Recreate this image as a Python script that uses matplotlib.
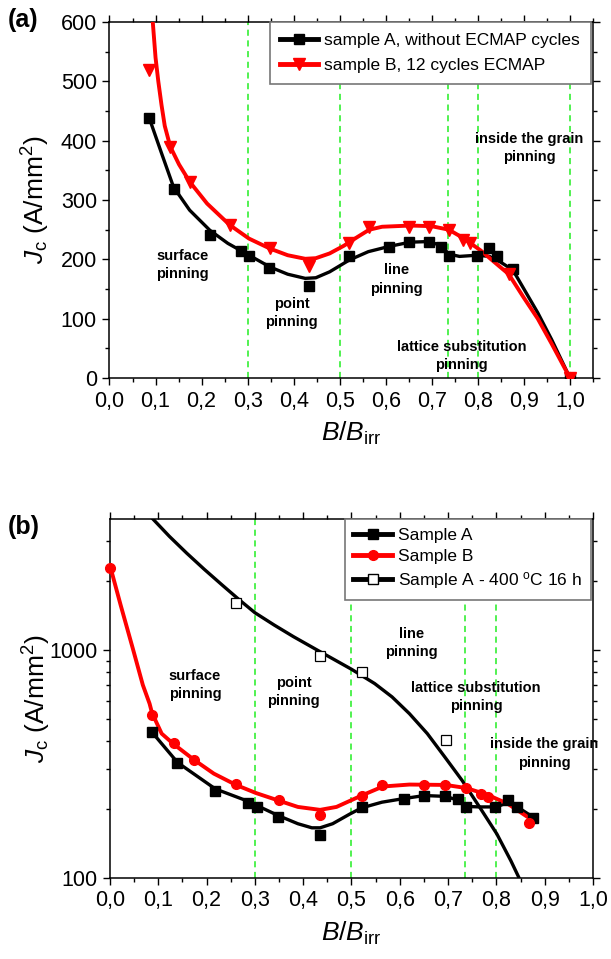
import matplotlib
matplotlib.use('Agg')
import matplotlib.pyplot as plt
from matplotlib.lines import Line2D
from matplotlib.ticker import MultipleLocator, FuncFormatter, LogLocator, NullFormatter
import numpy as np

plt.rcParams['font.family'] = ['Liberation Sans', 'DejaVu Sans']
plt.rcParams['mathtext.fontset'] = 'custom'
plt.rcParams['mathtext.rm'] = 'Liberation Sans'
plt.rcParams['mathtext.it'] = 'Liberation Sans:italic'
plt.rcParams['mathtext.bf'] = 'Liberation Sans:bold'

# measured points (same samples in both panels)
xA = [0.086, 0.139, 0.218, 0.286, 0.304, 0.347, 0.434, 0.521, 0.608, 0.651, 0.694, 0.720, 0.737, 0.798, 0.824, 0.842, 0.876, 1.0]
yA = [439, 319, 241, 214, 205, 186, 155, 205, 221, 230, 230, 221, 205, 205, 220, 205, 183, 0]
xB = [0.0, 0.086, 0.132, 0.174, 0.261, 0.349, 0.434, 0.521, 0.564, 0.651, 0.694, 0.737, 0.768, 0.783, 0.867, 1.0]
yB = [2300, 519, 390, 331, 258, 219, 188, 228, 255, 255, 255, 249, 233, 227, 175, 0]
xC = [0.261, 0.435, 0.521, 0.695]
yC = [1604, 942, 798, 404]

# fitted curves
fitA_a_x = [0.086, 0.113, 0.139, 0.174, 0.218, 0.257, 0.303, 0.349, 0.387, 0.425, 0.448, 0.478, 0.521, 0.562,
            0.608, 0.653, 0.692, 0.718, 0.737, 0.760, 0.798, 0.825, 0.850, 0.876, 0.900, 0.930, 0.960, 1.0]
fitA_a_y = [439, 379, 322, 283, 249, 227, 207, 187, 175, 168, 169, 179, 199, 213,
            222, 229, 230, 224, 209, 205, 207, 205, 195, 182, 150, 110, 65, 0]
fitB_a_x = [0.094, 0.100, 0.106, 0.113, 0.120, 0.132, 0.151, 0.174, 0.212, 0.261, 0.303, 0.349, 0.387, 0.425, 0.448,
            0.478, 0.509, 0.539, 0.564, 0.592, 0.653, 0.699, 0.737, 0.768, 0.806, 0.844, 0.867, 0.900, 0.930, 0.960, 1.0]
fitB_a_y = [600, 540, 500, 460, 425, 390, 360, 331, 294, 258, 235, 218, 207, 201, 202,
            210, 223, 238, 250, 255, 257, 256, 250, 236, 215, 190, 175, 135, 100, 58, 0]

# fitted curves
fitA_b_x = [0.0875, 0.140, 0.218, 0.286, 0.304, 0.348, 0.389, 0.418, 0.435, 0.461, 0.497, 0.521, 0.563, 0.608,
            0.651, 0.695, 0.722, 0.738, 0.765, 0.799, 0.825, 0.842, 0.879]
fitA_b_y = [435, 321, 246, 217, 208, 188, 173, 166, 166, 173, 191, 203, 215, 223,
            230, 228, 219, 206, 205, 205, 214, 206, 183]
fitB_b_x = [0.0, 0.022, 0.047, 0.068, 0.082, 0.087, 0.107, 0.131, 0.174, 0.215, 0.261, 0.302, 0.348, 0.389, 0.435,
            0.469, 0.521, 0.565, 0.620, 0.695, 0.738, 0.781, 0.823, 0.870]
fitB_b_y = [2350, 1578, 1021, 703, 582, 530, 430, 388, 330, 287, 256, 236, 219, 205, 199,
            205, 230, 252, 257, 256, 248, 232, 212, 182]
fitC_b_x = [0.089, 0.123, 0.159, 0.195, 0.232, 0.268, 0.300, 0.340, 0.380, 0.435, 0.500, 0.548, 0.584, 0.620,
            0.657, 0.693, 0.729, 0.765, 0.801, 0.830, 0.850]
fitC_b_y = [3758, 3155, 2661, 2264, 1932, 1660, 1459, 1288, 1145, 984, 824, 713, 623, 526,
            430, 340, 268, 205, 156, 119, 97]

regions_a = [0.3, 0.5, 0.735, 0.8, 1.0]
regions_b = [0.3, 0.5, 0.735, 0.8]

labels_txt = ['surface\npinning', 'point\npinning', 'line\npinning',
              'lattice substitution\npinning', 'inside the grain\npinning']
lab_a_x = [0.158, 0.395, 0.623, 0.764, 0.911]
lab_a_y = [191, 110, 166, 37, 388]
lab_b_x = [0.176, 0.380, 0.624, 0.758, 0.899]
lab_b_y = [701, 656, 1077, 623, 351]

green = '#22ee22'
comma = FuncFormatter(lambda v, p: f'{v:.1f}'.replace('.', ','))


def style_axes(ax):
    ax.tick_params(which='both', direction='out', top=True, right=True, width=1.0,
                   labelsize=15.5, pad=4)
    ax.tick_params(which='major', length=5)
    ax.tick_params(which='minor', length=3)
    for s in ax.spines.values():
        s.set_linewidth(1.1)
    ax.xaxis.set_major_locator(MultipleLocator(0.1))
    ax.xaxis.set_minor_locator(MultipleLocator(0.05))
    ax.xaxis.set_major_formatter(comma)


fig = plt.figure(figsize=(6.11, 9.59), dpi=100)

# ---- panel (a)
ax1 = fig.add_axes([0.1792, 0.6058, 0.7914, 0.3712])
for xv in regions_a:
    ax1.axvline(xv, color=green, lw=1.1, ls=(0, (4, 3)), zorder=1)
ax1.plot(fitA_a_x, fitA_a_y, color='black', lw=2.4, zorder=3)
ax1.plot(fitB_a_x, fitB_a_y, color='red', lw=2.8, zorder=4)
ax1.plot(xA, yA, 's', color='black', ms=6.5, zorder=5)
ax1.plot(xB, yB, 'v', color='red', ms=8, zorder=6)
for t, xx, yy in zip(labels_txt, lab_a_x, lab_a_y):
    ax1.text(xx, yy, t, ha='center', va='center', fontsize=10.5, weight='bold',
             linespacing=1.4, zorder=7)
ax1.set_xlim(0, 1.05)
ax1.set_ylim(0, 600)
ax1.yaxis.set_major_locator(MultipleLocator(100))
ax1.yaxis.set_minor_locator(MultipleLocator(50))
style_axes(ax1)
ax1.set_xlabel(r'$B/B_{\mathrm{irr}}$', fontsize=19, labelpad=6)
ax1.set_ylabel(r'$J_{\mathrm{c}}$ (A/mm$^2$)', fontsize=19)
ax1.yaxis.set_label_coords(-0.118, 0.5)
hA = Line2D([], [], color='black', lw=3.5, marker='s', ms=7)
hB = Line2D([], [], color='red', lw=3.5, marker='v', ms=8)
leg1 = ax1.legend([hA, hB], ['sample A, without ECMAP cycles', 'sample B, 12 cycles ECMAP'],
                  loc='upper right', bbox_to_anchor=(0.995, 1.0), fontsize=12.5, numpoints=1,
                  handlelength=2.2, handletextpad=0.35, labelspacing=0.6, borderpad=0.6,
                  borderaxespad=0, fancybox=False, framealpha=1)
leg1.get_frame().set_edgecolor('#777777')
leg1.get_frame().set_linewidth(1.2)
leg1.set_zorder(10)

# ---- panel (b)
ax2 = fig.add_axes([0.1800, 0.0845, 0.7905, 0.3743])
for xv in regions_b:
    ax2.axvline(xv, color=green, lw=1.1, ls=(0, (4, 3)), zorder=1)
ax2.plot(fitC_b_x, fitC_b_y, color='black', lw=2.4, zorder=3)
ax2.plot(fitA_b_x, fitA_b_y, color='black', lw=2.4, zorder=3)
ax2.plot(fitB_b_x, fitB_b_y, color='red', lw=2.8, zorder=4)
xa2 = [x for x, y in zip(xA, yA) if y > 0]
ya2 = [y for y in yA if y > 0]
xb2 = [x for x, y in zip(xB, yB) if y > 0]
yb2 = [y for y in yB if y > 0]
ax2.plot(xa2, ya2, 's', color='black', ms=6.5, zorder=5)
ax2.plot(xb2, yb2, 'o', color='red', ms=7, zorder=6, clip_on=False)
ax2.plot(xC, yC, 's', mfc='white', mec='black', mew=0.9, ms=6.5, zorder=6)
for t, xx, yy in zip(labels_txt, lab_b_x, lab_b_y):
    ax2.text(xx, yy, t, ha='center', va='center', fontsize=10.5, weight='bold',
             linespacing=1.4, zorder=7)
ax2.set_yscale('log')
ax2.set_xlim(0, 1.0)
ax2.set_ylim(100, 3760)
ax2.yaxis.set_major_locator(LogLocator(base=10))
ax2.yaxis.set_minor_locator(LogLocator(base=10, subs=np.arange(2, 10)))
ax2.yaxis.set_minor_formatter(NullFormatter())
ax2.yaxis.set_major_formatter(FuncFormatter(lambda v, p: f'{v:.0f}'))
style_axes(ax2)
ax2.set_xlabel(r'$B/B_{\mathrm{irr}}$', fontsize=19, labelpad=6)
ax2.set_ylabel(r'$J_{\mathrm{c}}$ (A/mm$^2$)', fontsize=19)
ax2.yaxis.set_label_coords(-0.118, 0.5)
h1 = Line2D([], [], color='black', lw=3.5, marker='s', ms=6.5)
h2 = Line2D([], [], color='red', lw=3.5, marker='o', ms=7)
h3 = Line2D([], [], color='black', lw=3.5, marker='s', ms=6.5, mfc='white', mec='black')
leg2 = ax2.legend([h1, h2, h3], ['Sample A', 'Sample B', r'Sample A - 400 $^{\mathrm{o}}$C 16 h'],
                  loc='upper right', bbox_to_anchor=(0.995, 1.0), fontsize=12.5, numpoints=1,
                  handlelength=2.2, handletextpad=0.35, labelspacing=0.35, borderpad=0.5,
                  borderaxespad=0, fancybox=False, framealpha=1)
leg2.get_frame().set_edgecolor('#777777')
leg2.get_frame().set_linewidth(1.2)
leg2.set_zorder(10)

fig.text(0.013, 1 - 8 / 959, '(a)', fontsize=18, weight='bold', va='top')
fig.text(0.013, 1 - 515 / 959, '(b)', fontsize=18, weight='bold', va='top')

fig.savefig('out.png', dpi=100)
